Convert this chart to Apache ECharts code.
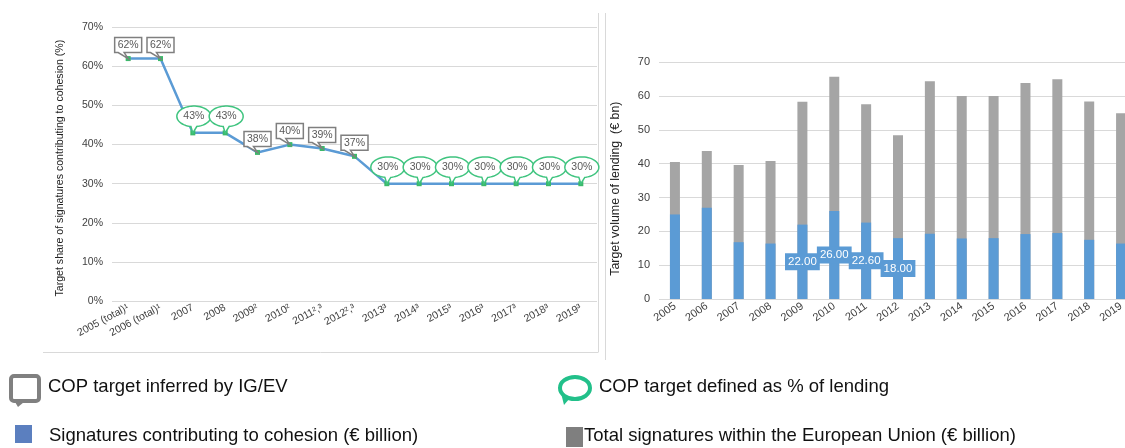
<!DOCTYPE html>
<html>
<head>
<meta charset="utf-8">
<script src="https://cdn.jsdelivr.net/npm/echarts@6/dist/echarts.min.js"></script>
<style>
html,body{margin:0;padding:0;overflow:hidden;background:#fff;width:1125px;height:448px;}
#chart{width:1150px;height:448px;}
</style>
</head>
<body>
<div id="chart"></div>
<script>
// ---- data ----
const shareCategories = ['2005 (total)¹','2006 (total)¹','2007','2008','2009²','2010²','2011²,³','2012²,³','2013³','2014³','2015³','2016³','2017³','2018³','2019³'];
const targetShare = [62,62,43,43,38,40,39,37,30,30,30,30,30,30,30];
const targetKind = ['inferred','inferred','defined','defined','inferred','inferred','inferred','inferred','defined','defined','defined','defined','defined','defined','defined'];
const years = ['2005','2006','2007','2008','2009','2010','2011','2012','2013','2014','2015','2016','2017','2018','2019'];
const cohesionSignatures = [25.0,27.0,16.8,16.4,22.0,26.0,22.6,18.0,19.3,17.9,18.0,19.2,19.5,17.5,16.4];
const totalSignatures = [40.5,43.8,39.6,40.8,58.3,65.7,57.6,48.4,64.4,60.0,60.0,63.9,65.0,58.4,54.9];
const labelledYears = ['2009','2010','2011','2012'];

const FONT = 'Liberation Sans, Arial, sans-serif';
const BLUE = '#5b9bd5';
const GREY = '#a5a5a5';
const GREEN = '#3fc47f';
const BOXGREY = '#7f7f7f';

const calloutData = targetShare.map((v, i) => [i, v, targetKind[i] === 'inferred' ? 0 : 1]);

function renderCallout(params, api) {
  const p = api.coord([api.value(0), api.value(1)]);
  const x = p[0], y = p[1];
  const kind = api.value(2);
  const txt = api.value(1) + '%';
  if (kind === 0) {
    const pts = [[x-13.5,y-21],[x+13.5,y-21],[x+13.5,y-6],[x-4,y-6],[x,y],[x-10,y-6],[x-13.5,y-6]];
    return {type:'group', children:[
      {type:'polygon', shape:{points:pts}, style:{fill:'#fff', stroke:BOXGREY, lineWidth:1.5}},
      {type:'text', style:{text:txt, x:x, y:y-13.5, align:'center', verticalAlign:'middle', fill:'#595959', font:'10.5px ' + FONT}}
    ]};
  }
  const cx = x + 1, cy = y - 16.5, rx = 17, ry = 10.3;
  const pts = [];
  for (let a = 100; a <= 440; a += 6) {
    const r = a * Math.PI / 180;
    pts.push([cx + rx * Math.cos(r), cy + ry * Math.sin(r)]);
  }
  const r2 = 440 * Math.PI / 180;
  pts.push([cx + rx * Math.cos(r2), cy + ry * Math.sin(r2)]);
  pts.push([x, y]);
  return {type:'group', children:[
    {type:'polygon', shape:{points:pts}, style:{fill:'#fff', stroke:GREEN, lineWidth:1.5}},
    {type:'text', style:{text:txt, x:cx, y:cy, align:'center', verticalAlign:'middle', fill:'#595959', font:'10.5px ' + FONT}}
  ]};
}

const chart = echarts.init(document.getElementById('chart'), null, {renderer:'canvas'});

const option = {
  animation: false,
  textStyle: {fontFamily: FONT},
  grid: [
    {left:112, right:1150-597, top:27.3, bottom:448-301},
    {left:659, right:1150-1137, top:62.3, bottom:448-299}
  ],
  xAxis: [
    {type:'category', gridIndex:0, data:shareCategories, boundaryGap:true,
     axisLine:{show:false}, axisTick:{show:false},
     axisLabel:{rotate:28, fontSize:10.5, color:'#404040', margin:6, interval:0}},
    {type:'category', gridIndex:1, data:years, boundaryGap:true,
     axisLine:{show:false}, axisTick:{show:false},
     axisLabel:{rotate:35, fontSize:11, color:'#404040', margin:6, interval:0}}
  ],
  yAxis: [
    {type:'value', gridIndex:0, min:0, max:70, interval:10,
     axisLabel:{formatter:'{value}%', fontSize:10.5, color:'#404040', margin:9},
     splitLine:{lineStyle:{color:'#d9d9d9', width:1}},
     name:'Target share of signatures contributing to cohesion (%)', nameLocation:'middle', nameGap:46,
     nameTextStyle:{fontSize:10.6, color:'#222', padding:[0,8,0,0]}},
    {type:'value', gridIndex:1, min:0, max:70, interval:10,
     axisLabel:{fontSize:11, color:'#404040', margin:9},
     splitLine:{lineStyle:{color:'#d9d9d9', width:1}},
     name:'Target volume of lending  (€ bn)', nameLocation:'middle', nameGap:37,
     nameTextStyle:{fontSize:12.4, color:'#222', padding:[0,16,0,0]}}
  ],
  series: [
    {type:'line', xAxisIndex:0, yAxisIndex:0, data:targetShare, z:3,
     lineStyle:{color:BLUE, width:2.5}, symbol:'rect', symbolSize:5,
     itemStyle:{color:'#3cb96a'}},
    {type:'custom', xAxisIndex:0, yAxisIndex:0, data:calloutData, renderItem:renderCallout, z:5,
     encode:{x:0, y:1}},
    {type:'bar', xAxisIndex:1, yAxisIndex:1, data:totalSignatures, barWidth:10, barGap:'-100%',
     itemStyle:{color:GREY}, z:2},
    {type:'bar', xAxisIndex:1, yAxisIndex:1, barWidth:10, barGap:'-100%', z:3,
     itemStyle:{color:BLUE},
     data: cohesionSignatures.map((v, i) => ({
       value: v,
       label: {show: labelledYears.indexOf(years[i]) >= 0}
     })),
     label:{position:'inside', formatter:(p) => p.value.toFixed(2), color:'#fff',
            backgroundColor:BLUE, padding:[3,3,2,3], fontSize:11.5, fontFamily:FONT}}
  ],
  graphic: [
    {type:'line', shape:{x1:43, y1:352.5, x2:598, y2:352.5}, style:{stroke:'#d9d9d9', lineWidth:1}, silent:true},
    {type:'line', shape:{x1:598.5, y1:13, x2:598.5, y2:352.5}, style:{stroke:'#d9d9d9', lineWidth:1}, silent:true},
    {type:'line', shape:{x1:605.5, y1:13, x2:605.5, y2:360}, style:{stroke:'#d9d9d9', lineWidth:1}, silent:true},
    // legend: grey callout
    {type:'rect', shape:{x:11, y:376, width:28, height:25, r:3}, style:{fill:'#fff', stroke:'#808080', lineWidth:4}},
    {type:'polygon', shape:{points:[[15,402],[24,402],[18,407]]}, style:{fill:'#808080'}},
    {type:'text', left:48, top:377, style:{text:'COP target inferred by IG/EV', font:'18.5px ' + FONT, fill:'#111'}},
    // legend: green bubble
    {type:'ellipse', shape:{cx:575, cy:388, rx:15, ry:11}, style:{fill:'#fff', stroke:'#22c08a', lineWidth:4}},
    {type:'polygon', shape:{points:[[561,393],[570,398],[564,405]]}, style:{fill:'#22c08a'}},
    {type:'text', left:599, top:377, style:{text:'COP target defined as % of lending', font:'18.5px ' + FONT, fill:'#111'}},
    // legend: squares
    {type:'rect', shape:{x:15, y:425, width:17, height:18}, style:{fill:'#5b7fbf'}},
    {type:'text', left:49, top:426, style:{text:'Signatures contributing to cohesion (€ billion)', font:'18.5px ' + FONT, fill:'#111'}},
    {type:'rect', shape:{x:566, y:427, width:17, height:20}, style:{fill:'#7f7f7f'}},
    {type:'text', left:584, top:426, style:{text:'Total signatures within the European Union (€ billion)', font:'18.5px ' + FONT, fill:'#111'}}
  ]
};
chart.setOption(option);
</script>
</body>
</html>
